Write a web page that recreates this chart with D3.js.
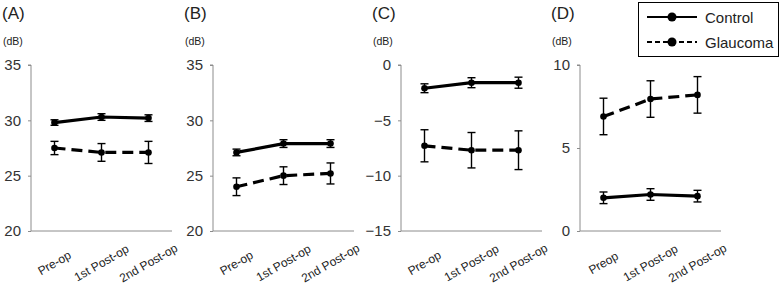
<!DOCTYPE html>
<html><head><meta charset="utf-8">
<script src="https://cdn.jsdelivr.net/npm/d3@7"></script>
<style>body{margin:0;background:#fff}svg{display:block}</style>
</head><body><svg id="c" width="783" height="290"></svg>
<script>
const panelLabels = ["(A)", "(B)", "(C)", "(D)"];
const unitLabel = "(dB)";
const categoriesABC = ["Pre-op", "1st Post-op", "2nd Post-op"];
const categoriesD = ["Preop", "1st Post-op", "2nd Post-op"];
const yDomains = [[20, 35], [20, 35], [-15, 0], [0, 10]];
const yTicks = [[20, 25, 30, 35], [20, 25, 30, 35], [-15, -10, -5, 0], [0, 5, 10]];
const controlMean = [[29.8, 30.3, 30.2], [27.1, 27.9, 27.9], [-2.1, -1.6, -1.6], [2.0, 2.2, 2.1]];
const controlErr  = [[0.25, 0.3, 0.3], [0.3, 0.35, 0.35], [0.4, 0.45, 0.5], [0.35, 0.35, 0.35]];
const glaucomaMean = [[27.5, 27.1, 27.1], [24.0, 25.0, 25.2], [-7.3, -7.7, -7.7], [6.9, 7.95, 8.2]];
const glaucomaErr  = [[0.6, 0.8, 1.0], [0.8, 0.8, 0.95], [1.45, 1.6, 1.75], [1.1, 1.1, 1.1]];
const seriesNames = ["Control", "Glaucoma"];

const svg = d3.select("#c");
const font = "'Liberation Sans', Arial, sans-serif";
const axisX = [31, 213, 401, 580];
const plotW = 141, yTop = 65, yBot = 231;
const axisColor = "#8c8c8c";

panelLabels.forEach((lab, i) => {
  const g = svg.append("g").attr("transform", `translate(${axisX[i]},0)`);
  const cats = i === 3 ? categoriesD : categoriesABC;
  const x = d3.scaleBand().domain(cats).range([0, plotW]);
  const y = d3.scaleLinear().domain(yDomains[i]).range([yBot, yTop]);

  g.append("text").attr("x", -29).attr("y", 19).attr("font-family", font)
    .attr("font-size", 17).attr("fill", "#222").text(lab);
  g.append("text").attr("x", -28).attr("y", 45).attr("font-family", font)
    .attr("font-size", 10.5).attr("fill", "#222").text(unitLabel);

  const ya = d3.axisLeft(y).tickValues(yTicks[i]).tickSize(3).tickPadding(7).tickFormat(d3.format("d"));
  const yg = g.append("g").call(ya);
  yg.select(".domain").attr("stroke", axisColor).attr("d", `M-3,${yTop}H0V${yBot}`);
  yg.selectAll(".tick line").attr("stroke", axisColor);
  yg.selectAll(".tick text").attr("font-family", font).attr("font-size", 15).attr("fill", "#333");

  g.append("line").attr("x1", 0).attr("x2", plotW).attr("y1", yBot).attr("y2", yBot)
    .attr("stroke", axisColor).attr("stroke-width", 1);

  g.selectAll(".xl").data(cats).enter().append("text")
    .attr("transform", d => `translate(${x(d) + x.bandwidth() / 2},263) rotate(-30)`)
    .attr("text-anchor", "middle").attr("dominant-baseline", "central")
    .attr("font-family", font).attr("font-size", 12).attr("fill", "#222").text(d => d);

  const series = [
    {m: glaucomaMean[i], e: glaucomaErr[i], dash: "11,6"},
    {m: controlMean[i], e: controlErr[i], dash: null}
  ];
  series.forEach(s => {
    const pts = cats.map((c, k) => ({x: x(c) + x.bandwidth() / 2, v: s.m[k], e: s.e[k]}));
    g.append("path").datum(pts)
      .attr("d", d3.line().x(d => d.x).y(d => y(d.v)))
      .attr("fill", "none").attr("stroke", "#000").attr("stroke-width", 3.2)
      .attr("stroke-dasharray", s.dash);
    pts.forEach(p => {
      const eg = g.append("g").attr("stroke", "#000").attr("stroke-width", 1.4);
      eg.append("line").attr("x1", p.x).attr("x2", p.x).attr("y1", y(p.v + p.e)).attr("y2", y(p.v - p.e));
      eg.append("line").attr("x1", p.x - 4).attr("x2", p.x + 4).attr("y1", y(p.v + p.e)).attr("y2", y(p.v + p.e));
      eg.append("line").attr("x1", p.x - 4).attr("x2", p.x + 4).attr("y1", y(p.v - p.e)).attr("y2", y(p.v - p.e));
      g.append("circle").attr("cx", p.x).attr("cy", y(p.v)).attr("r", 3.3).attr("fill", "#000");
    });
  });
});

// legend
const lg = svg.append("g");
lg.append("rect").attr("x", 638.5).attr("y", 2.5).attr("width", 140).attr("height", 54)
  .attr("fill", "#fff").attr("stroke", "#000").attr("stroke-width", 1);
seriesNames.forEach((n, k) => {
  const yy = 17 + k * 25;
  lg.append("line").attr("x1", 647).attr("x2", 697).attr("y1", yy).attr("y2", yy)
    .attr("stroke", "#000").attr("stroke-width", 2)
    .attr("stroke-dasharray", k === 1 ? "5,3" : null);
  lg.append("circle").attr("cx", 672).attr("cy", yy).attr("r", 4.5).attr("fill", "#000");
  lg.append("text").attr("x", 705).attr("y", yy).attr("dominant-baseline", "central")
    .attr("font-family", font).attr("font-size", 15).attr("fill", "#222").text(n);
});
</script></body></html>
